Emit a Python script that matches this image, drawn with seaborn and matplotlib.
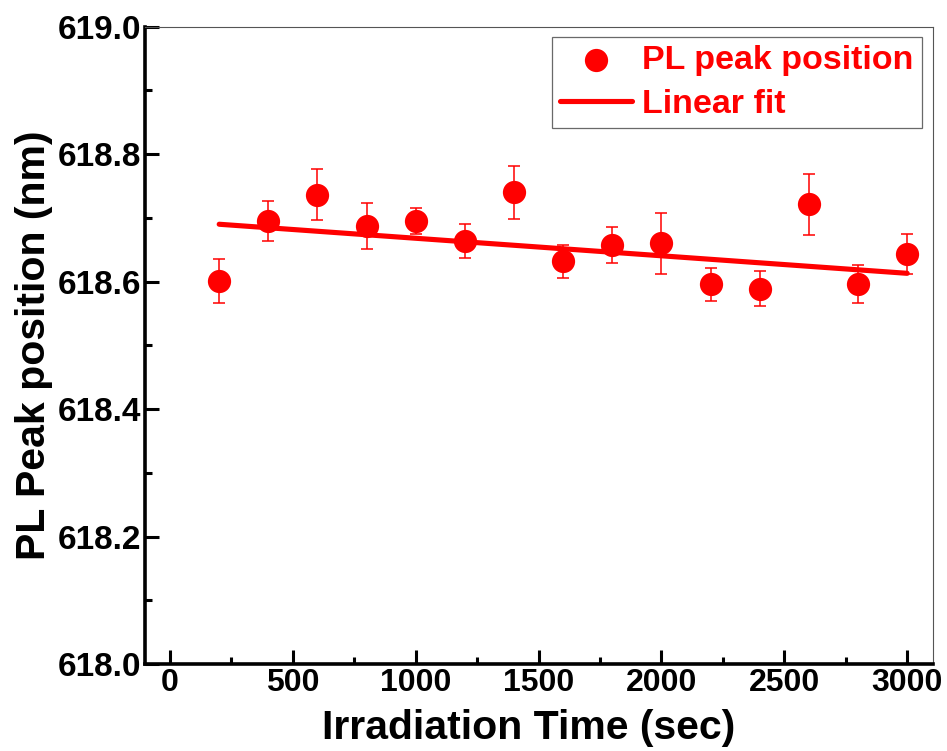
import numpy as np
import pandas as pd
import matplotlib
matplotlib.use("Agg")
import matplotlib.pyplot as plt
from matplotlib.ticker import MultipleLocator, FormatStrFormatter
import seaborn as sns

# Irradiation time (s) and measured PL peak position (nm)
time_sec = [200, 400, 600, 800, 1000, 1200, 1400, 1600, 1800, 2000,
            2200, 2400, 2600, 2800, 3000]
peak_nm = [618.601, 618.695, 618.736, 618.687, 618.695, 618.664, 618.740,
           618.632, 618.657, 618.660, 618.596, 618.589, 618.721, 618.596,
           618.643]
peak_err = [0.034, 0.032, 0.040, 0.036, 0.021, 0.027, 0.042, 0.026, 0.028,
            0.048, 0.026, 0.027, 0.048, 0.030, 0.031]

# Linear fit endpoints
fit_x = [200, 3000]
fit_y = [618.690, 618.613]

sns.set_theme(style="white")
plt.rcParams["font.family"] = ["Liberation Sans", "DejaVu Sans"]
plt.rcParams["font.weight"] = "bold"
for key in ("text.color", "axes.labelcolor", "xtick.color", "ytick.color"):
    plt.rcParams[key] = "black"

df = pd.DataFrame({"t": time_sec, "peak": peak_nm})
df_fit = pd.DataFrame({"t": fit_x, "peak": fit_y})

fig = plt.figure(figsize=(9.47, 7.51), dpi=100)
ax = fig.add_axes([0.1531, 0.1158, 0.9852 - 0.1531, 0.9645 - 0.1158])

red = "#ff0000"
ax.errorbar(time_sec, peak_nm, yerr=peak_err, fmt="none", ecolor=red,
            elinewidth=1.1, capsize=4.6, capthick=1.1, zorder=2)
sns.lineplot(data=df_fit, x="t", y="peak", ax=ax, color=red, linewidth=3.7,
             label="Linear fit", zorder=3)
sns.scatterplot(data=df, x="t", y="peak", ax=ax, color=red, s=280,
                edgecolor=red, linewidth=0, label="PL peak position",
                zorder=4)

ax.set_xlim(-102, 3105)
ax.set_ylim(618.0, 619.0)
ax.xaxis.set_major_locator(MultipleLocator(500))
ax.xaxis.set_minor_locator(MultipleLocator(250))
ax.yaxis.set_major_locator(MultipleLocator(0.2))
ax.yaxis.set_minor_locator(MultipleLocator(0.1))
ax.yaxis.set_major_formatter(FormatStrFormatter("%.1f"))

ax.tick_params(axis="y", which="major", labelsize=24)
ax.tick_params(axis="x", which="major", labelsize=23)
ax.tick_params(which="major", direction="in", length=10, width=2.2,
               color="black", pad=3,
               bottom=True, left=True, top=False, right=False)
ax.tick_params(which="minor", direction="in", length=5, width=2.2,
               color="black", bottom=True, left=True, top=False, right=False)
for lab in ax.get_xticklabels() + ax.get_yticklabels():
    lab.set_fontweight("bold")

for side in ("left", "bottom"):
    ax.spines[side].set_color("black")
    ax.spines[side].set_linewidth(2.6)
for side in ("top", "right"):
    ax.spines[side].set_color("#555555")
    ax.spines[side].set_linewidth(0.8)

ax.set_xlabel("Irradiation Time (sec)", fontsize=29.5, fontweight="bold",
              labelpad=8)
ax.xaxis.label.set_x(0.487)
ax.set_ylabel("PL Peak position (nm)", fontsize=29.5, fontweight="bold",
              labelpad=3)

handles, labels = ax.get_legend_handles_labels()
order = [labels.index("PL peak position"), labels.index("Linear fit")]
leg = ax.legend([handles[i] for i in order], [labels[i] for i in order],
                loc="upper right", bbox_to_anchor=(0.986, 0.984),
                borderaxespad=0, fontsize=24.5, frameon=True, fancybox=False,
                edgecolor="#444444", borderpad=0.25, handlelength=2.1,
                handletextpad=0.3, labelspacing=0.36, markerscale=1.0)
leg.get_frame().set_linewidth(0.9)
for txt in leg.get_texts():
    txt.set_color(red)
    txt.set_fontweight("bold")

fig.savefig("out.png", dpi=100)
